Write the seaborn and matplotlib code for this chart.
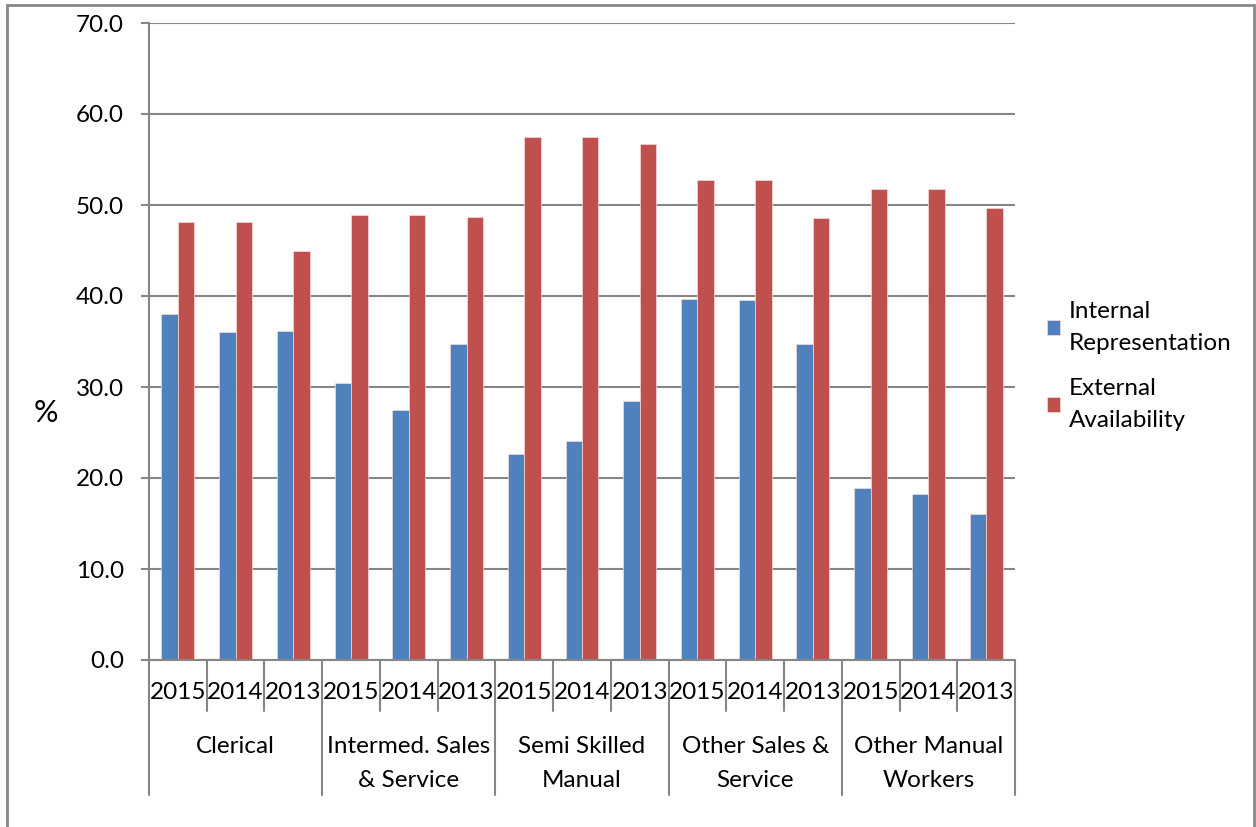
import pandas as pd
import numpy as np
import matplotlib
matplotlib.use("Agg")
import matplotlib.pyplot as plt
import matplotlib.patches as mpatches
import seaborn as sns

# Chart data
categories = ["Clerical", "Intermed. Sales\n& Service", "Semi Skilled\nManual",
              "Other Sales &\nService", "Other Manual\nWorkers"]
years = ["2015", "2014", "2013"]
internal = [38.0, 36.0, 36.1, 30.4, 27.5, 34.7, 22.6, 24.1, 28.5,
            39.7, 39.6, 34.7, 18.9, 18.2, 16.0]
external = [48.1, 48.1, 45.0, 48.9, 48.9, 48.7, 57.5, 57.5, 56.7,
            52.7, 52.7, 48.6, 51.8, 51.8, 49.7]
series = ["Internal\nRepresentation", "External\nAvailability"]
colors = ["#4F81BD", "#C0504D"]

sns.set_style("white")
plt.rcParams["font.family"] = ["Lato", "DejaVu Sans"]
plt.rcParams["text.color"] = "black"

# long format, one slot per (category, year)
slots = [f"{c}|{y}" for c in categories for y in years]
df = pd.concat([
    pd.DataFrame({"slot": slots, "value": internal, "series": series[0]}),
    pd.DataFrame({"slot": slots, "value": external, "series": series[1]}),
])

fig = plt.figure(figsize=(12.56, 8.27), dpi=100)
ax = fig.add_axes([149 / 1256, 1 - 660 / 827, 866 / 1256, 637 / 827])

sns.barplot(data=df, x="slot", y="value", hue="series", order=slots,
            hue_order=series, palette=colors, saturation=1, width=0.57, ax=ax,
            edgecolor="#f2dcdb", linewidth=0.5, legend=True)

grid_c = "#868686"
fs = 17.5
ax.set_ylim(0, 70)
ax.set_xlim(-0.5, len(slots) - 0.5)
ax.set_yticks(np.arange(0, 71, 10))
ax.set_yticklabels([f"{v:.1f}" for v in np.arange(0, 71, 10)], fontsize=fs)
ax.yaxis.grid(True, color=grid_c, linewidth=1.5)
ax.set_axisbelow(True)
ax.tick_params(axis="y", length=6, width=1.5, color=grid_c, pad=12, left=True,
               labelcolor="black")

ax.set_xticks(range(len(slots)))
ax.set_xticklabels([s.split("|")[1] for s in slots], fontsize=fs)
ax.tick_params(axis="x", length=0, pad=16, labelcolor="black")
ax.set_xlabel("")
ax.set_ylabel("%", fontsize=22, rotation=0, va="center", ha="center", color="black")
ax.yaxis.set_label_coords(-(149 - 46) / 866, (660 - 413) / 637)

for side in ["top", "right"]:
    ax.spines[side].set_visible(False)
for side in ["left", "bottom"]:
    ax.spines[side].set_color(grid_c)
    ax.spines[side].set_linewidth(1.5)

# separators under the axis
trans = ax.get_xaxis_transform()
n_years = len(years)
for i in range(len(slots) + 1):
    xb = i - 0.5
    bottom = -0.212 if i % n_years == 0 else -0.080
    ax.plot([xb, xb], [0, bottom], color=grid_c, linewidth=1.5,
            transform=trans, clip_on=False)

for j, cat in enumerate(categories):
    xc = j * n_years + (n_years - 1) / 2
    ax.text(xc, -0.119, cat, transform=trans, ha="center", va="top",
            fontsize=fs, linespacing=1.75)

handles, labels = ax.get_legend_handles_labels()
leg = ax.legend(handles, labels, loc="center left",
                bbox_to_anchor=(1047 / 1256, 1 - 366 / 827),
                bbox_transform=fig.transFigure, frameon=False, fontsize=fs,
                handlelength=0.55, handleheight=0.55, handletextpad=0.35,
                labelspacing=1.0, borderpad=0, borderaxespad=0)
for t in leg.get_texts():
    t.set_linespacing(1.65)

# outer frame of the chart
fig.patches.append(mpatches.Rectangle((7 / 1256, -0.1), 1247 / 1256, 1.1 - 5 / 827,
                                      transform=fig.transFigure, fill=False,
                                      edgecolor="#878787", linewidth=2))

fig.savefig("out.png", dpi=100)
